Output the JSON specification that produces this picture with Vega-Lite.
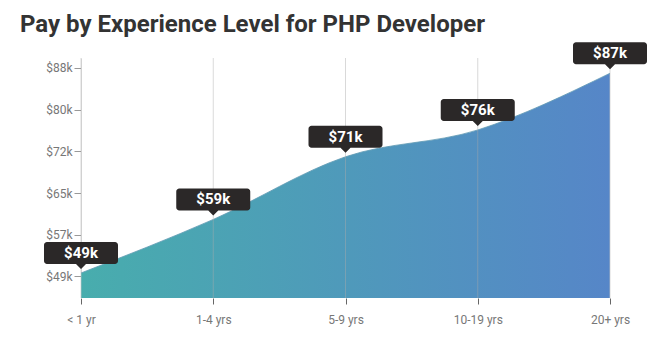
{
  "$schema": "https://vega.github.io/schema/vega-lite/v6.json",
  "autosize": "none",
  "width": 529,
  "height": 240,
  "padding": {"left": 81, "top": 58, "right": 45, "bottom": 54},
  "background": "white",
  "config": {
    "view": {"stroke": null},
    "font": "Roboto"
  },
  "title": {
    "text": "Pay by Experience Level for PHP Developer",
    "anchor": "start",
    "frame": "group",
    "dx": -61,
    "dy": 14,
    "offset": 19,
    "font": "Roboto",
    "fontSize": 24,
    "fontWeight": "bold",
    "color": "#333333"
  },
  "data": {
    "values": [
      {"level": "< 1 yr", "pay": 49650, "label": "$49k"},
      {"level": "1-4 yrs", "pay": 59600, "label": "$59k"},
      {"level": "5-9 yrs", "pay": 71250, "label": "$71k"},
      {"level": "10-19 yrs", "pay": 76230, "label": "$76k"},
      {"level": "20+ yrs", "pay": 86770, "label": "$87k"}
    ]
  },
  "encoding": {
    "x": {
      "field": "level",
      "type": "ordinal",
      "sort": null,
      "scale": {"type": "point", "padding": 0},
      "axis": {
        "title": null,
        "labelAngle": 0,
        "domain": false,
        "grid": false,
        "ticks": true,
        "tickSize": 6,
        "tickColor": "#666666",
        "labelPadding": 10,
        "labelFontSize": 12,
        "labelColor": "#777777",
        "labelFont": "Roboto"
      }
    },
    "y": {
      "field": "pay",
      "type": "quantitative",
      "scale": {"domain": [45000, 89600], "nice": false, "zero": false},
      "axis": {
        "title": null,
        "values": [49000, 56750, 64500, 72250, 80000, 87750],
        "labelExpr": "'$' + round(datum.value / 1000) + 'k'",
        "grid": false,
        "domain": true,
        "domainColor": "#dddddd",
        "tickColor": "#999999",
        "tickSize": 7,
        "labelPadding": 2,
        "labelFontSize": 12,
        "labelColor": "#777777",
        "labelFont": "Roboto"
      }
    }
  },
  "layer": [
    {
      "mark": {
        "type": "area",
        "interpolate": "monotone",
        "clip": true,
        "color": {
          "gradient": "linear",
          "x1": 0, "y1": 0, "x2": 1, "y2": 0,
          "stops": [
            {"offset": 0, "color": "#48adad"},
            {"offset": 1, "color": "#5686c8"}
          ]
        },
        "stroke": "#ffffff",
        "strokeOpacity": 0.3,
        "strokeWidth": 1
      }
    },
    {
      "mark": {
        "type": "line",
        "interpolate": "monotone",
        "stroke": "#357f9f",
        "strokeWidth": 1,
        "opacity": 0.6
      }
    },
    {
      "mark": {"type": "rule", "color": "#aaaaaa", "opacity": 0.45, "strokeWidth": 1},
      "encoding": {"y": null}
    },
    {
      "mark": {
        "type": "point",
        "filled": true,
        "opacity": 1,
        "color": "#2b2828",
        "size": 4,
        "shape": "M-34,-31 H34 A3,3 0 0 1 37,-28 V-12 A3,3 0 0 1 34,-9 H5 L0,-4 L-5,-9 H-34 A3,3 0 0 1 -37,-12 V-28 A3,3 0 0 1 -34,-31 Z"
      }
    },
    {
      "mark": {
        "type": "text",
        "dy": -20,
        "baseline": "middle",
        "align": "center",
        "color": "#ffffff",
        "font": "Roboto",
        "fontWeight": "bold",
        "fontSize": 15
      },
      "encoding": {"text": {"field": "label"}}
    }
  ]
}
